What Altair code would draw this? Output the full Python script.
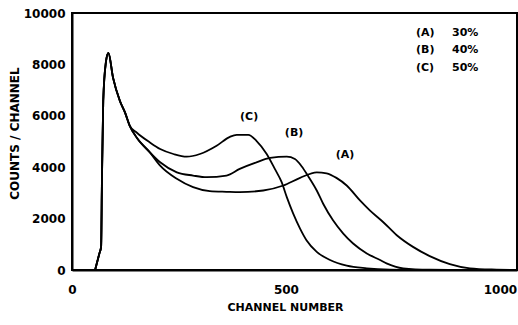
import altair as alt
import pandas as pd

# Shared rise and peak (channel, counts/channel)
common_ch = [54, 64, 68, 70, 73, 79, 85, 96, 112, 124, 135]
common_ct = [0, 645, 900, 3500, 6575, 8057, 8444, 7477, 6575, 6123, 5609]

# (C) 50%
c_ch = [151, 182, 206, 237, 268, 299, 338, 369, 385, 412, 431, 455, 474, 490,
        502, 517, 533, 548, 572, 603, 642, 689, 743, 813]
c_ct = [5350, 4963, 4707, 4514, 4410, 4514, 4835, 5183, 5260, 5260, 5028, 4514,
        3934, 3416, 2835, 2193, 1612, 1160, 708, 387, 166, 66, 15, 0]

# (B) 40%
b_ch = [151, 182, 206, 245, 283, 315, 361, 392, 431, 463, 502, 521, 537, 552,
        572, 587, 610, 634, 657, 689, 720, 735, 774, 836, 906]
b_ct = [5157, 4577, 4190, 3802, 3675, 3610, 3675, 3934, 4190, 4359, 4410, 4320,
        4030, 3650, 3094, 2579, 1934, 1418, 1031, 645, 387, 258, 66, 10, 0]

# (A) 30%
a_ch = [151, 182, 206, 245, 283, 322, 361, 392, 447, 494, 533, 572, 595, 618,
        642, 673, 696, 727, 759, 797, 836, 883, 930, 992, 1028]
a_ct = [5157, 4577, 4061, 3547, 3222, 3067, 3043, 3030, 3094, 3288, 3585, 3802,
        3763, 3585, 3288, 2708, 2321, 1869, 1354, 900, 541, 232, 66, 15, 0]

series_names = ["(A) 30%", "(B) 40%", "(C) 50%"]
y_ticks = [0, 2000, 4000, 6000, 8000, 10000]
x_ticks = [0, 500, 1000]

rows = []
for name, chs, cts in [("A", a_ch, a_ct), ("B", b_ch, b_ct), ("C", c_ch, c_ct)]:
    for x, y in zip(common_ch + chs, common_ct + cts):
        rows.append({"series": name, "channel": x, "counts": y})
df = pd.DataFrame(rows)

FONT = "DejaVu Sans"

x_enc = alt.X("channel:Q",
              scale=alt.Scale(domain=[0, 1040], nice=False, zero=False),
              axis=alt.Axis(values=x_ticks, format="d", title="CHANNEL NUMBER",
                            ticks=False, grid=False, labelPadding=14,
                            domainColor="black", domainWidth=2,
                            labelFont=FONT, labelFontSize=12, labelFontWeight="bold",
                            labelColor="black",
                            titleFont=FONT, titleFontSize=11, titleFontWeight="bold",
                            titleColor="black", titleX=213, titleY=37,
                            titleAlign="center", titleBaseline="middle",
                            labelFlush=False))
y_enc = alt.Y("counts:Q",
              scale=alt.Scale(domain=[0, 10000], nice=False),
              axis=alt.Axis(values=y_ticks, format="d", title="COUNTS / CHANNEL",
                            ticks=False, grid=False, labelPadding=7,
                            domainColor="black", domainWidth=2,
                            labelFont=FONT, labelFontSize=12, labelFontWeight="bold",
                            labelColor="black",
                            titleFont=FONT, titleFontSize=12, titleFontWeight="bold",
                            titleColor="black", titleX=-58, titleY=120,
                            titleAlign="center", titleBaseline="middle",
                            titleAngle=270))

lines = alt.Chart(df).mark_line(color="black", strokeWidth=1.8,
                                interpolate="monotone").encode(
    x=x_enc, y=y_enc, detail="series:N"
)

# Curve labels
lab_df = pd.DataFrame({
    "label": ["(C)", "(B)", "(A)"],
    "channel": [414, 519, 638],
    "counts": [5950, 5330, 4470],
})
curve_labels = alt.Chart(lab_df).mark_text(
    font=FONT, fontSize=11, fontWeight="bold", color="black"
).encode(x="channel:Q", y="counts:Q", text="label:N")

# Legend block (top right)
leg_df = pd.DataFrame({
    "tag": ["(A)", "(B)", "(C)"],
    "pct": ["30%", "40%", "50%"],
    "counts": [9220, 8560, 7860],
})
leg_tag = alt.Chart(leg_df).mark_text(
    font=FONT, fontSize=11, fontWeight="bold", color="black", align="left"
).encode(x=alt.value(344), y="counts:Q", text="tag:N")
leg_pct = alt.Chart(leg_df).mark_text(
    font=FONT, fontSize=11, fontWeight="bold", color="black", align="left"
).encode(x=alt.value(380), y="counts:Q", text="pct:N")

chart = alt.layer(lines, curve_labels, leg_tag, leg_pct).properties(
    width=445, height=257,
    autosize="none",
    padding={"left": 72, "top": 13, "right": 1, "bottom": 55},
    background="white",
).configure_view(stroke="black", strokeWidth=2)

chart.save("out.html", embed_options={"renderer": "svg", "actions": False})
